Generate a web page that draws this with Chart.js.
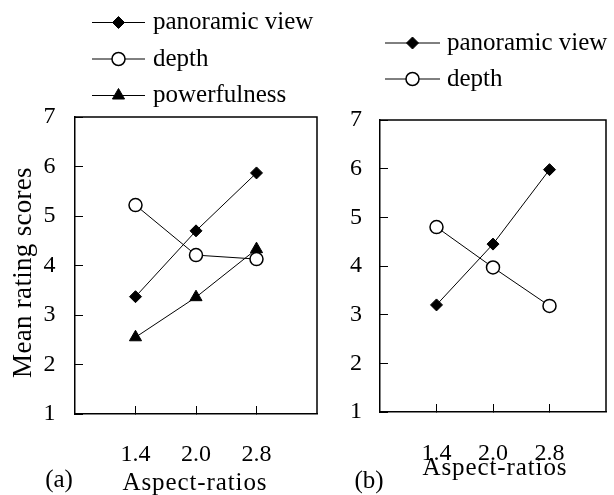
<!DOCTYPE html>
<html>
<head>
<meta charset="utf-8">
<script src="https://cdn.jsdelivr.net/npm/chart.js@4.4.0/dist/chart.umd.min.js"></script>
<style>
  html, body { margin: 0; padding: 0; background: #fff; }
  #wrapA { position: absolute; left: 0; top: 0; width: 330px; height: 495px; }
  #wrapB { position: absolute; left: 330px; top: 0; width: 284px; height: 495px; }
</style>
</head>
<body>
<div id="wrapA"><canvas id="chartA"></canvas></div>
<div id="wrapB"><canvas id="chartB"></canvas></div>
<script>
// data
const aspectRatios = ['1.4', '2.0', '2.8'];
const yTicks = [1, 2, 3, 4, 5, 6, 7];

const panoramicA = [3.37, 4.70, 5.87];
const depthA = [5.22, 4.21, 4.13];
const powerfulnessA = [2.55, 3.36, 4.33];

const panoramicB = [3.20, 4.45, 5.98];
const depthB = [4.80, 3.97, 3.18];

const FONT = '"Liberation Serif", "Times New Roman", serif';
Chart.defaults.font.family = FONT;
Chart.defaults.color = '#000';

const toPoints = vals => vals.map((v, i) => ({ x: i + 1, y: v }));

const styles = {
  panoramic: { pointStyle: 'rectRot', pointRadius: 6, pointBackgroundColor: '#000', pointBorderWidth: 1 },
  depth: { pointStyle: 'circle', pointRadius: 6.5, pointBackgroundColor: '#fff', pointBorderWidth: 1.5 },
  powerfulness: { pointStyle: 'triangle', pointRadius: 7, pointBackgroundColor: '#000', pointBorderWidth: 1 }
};

function series(label, vals, style) {
  return Object.assign({
    label: label,
    data: toPoints(vals),
    borderColor: '#000',
    borderWidth: 1,
    pointBorderColor: '#000',
    pointHoverRadius: style.pointRadius,
    clip: false
  }, style);
}

// top + right edges of the plot box
const frame = {
  id: 'frame',
  beforeDatasetsDraw(chart) {
    const { ctx, chartArea: a } = chart;
    ctx.save();
    ctx.strokeStyle = '#000';
    ctx.lineWidth = 1.5;
    ctx.beginPath();
    ctx.moveTo(a.left, a.top);
    ctx.lineTo(a.right, a.top);
    ctx.lineTo(a.right, a.bottom);
    ctx.stroke();
    ctx.restore();
  }
};

// legend drawn as line-marker-line like the original
const lineLegend = {
  id: 'lineLegend',
  afterDraw(chart, args, opts) {
    const ctx = chart.ctx;
    ctx.save();
    chart.data.datasets.forEach((ds, i) => {
      const y = opts.y + i * opts.rowGap;
      ctx.strokeStyle = '#000';
      ctx.lineWidth = 1;
      ctx.beginPath();
      ctx.moveTo(opts.x, y);
      ctx.lineTo(opts.x + opts.lineLen, y);
      ctx.stroke();
      ctx.fillStyle = ds.pointBackgroundColor;
      ctx.strokeStyle = ds.pointBorderColor;
      ctx.lineWidth = ds.pointBorderWidth;
      Chart.helpers.drawPoint(ctx, {
        pointStyle: ds.pointStyle,
        radius: ds.pointRadius,
        borderWidth: ds.pointBorderWidth,
        rotation: 0
      }, opts.x + opts.lineLen / 2, y);
      ctx.fillStyle = '#000';
      ctx.font = '25px ' + FONT;
      ctx.textAlign = 'left';
      ctx.textBaseline = 'middle';
      ctx.fillText(ds.label, opts.x + opts.lineLen + opts.textGap, y);
    });
    ctx.restore();
  }
};

// axis titles and panel tag; the originals are slightly letter-spaced
const captions = {
  id: 'captions',
  afterDraw(chart, args, opts) {
    const ctx = chart.ctx;
    ctx.save();
    ctx.fillStyle = '#000';
    ctx.textAlign = 'center';
    ctx.textBaseline = 'middle';
    opts.items.forEach(it => {
      ctx.save();
      ctx.font = it.size + 'px ' + FONT;
      ctx.letterSpacing = (it.spacing || 0) + 'px';
      ctx.translate(it.x, it.y);
      if (it.vertical) ctx.rotate(-Math.PI / 2);
      ctx.fillText(it.text, 0, 0);
      ctx.restore();
    });
    ctx.restore();
  }
};

function makeScales(o) {
  return {
    x: {
      type: 'linear',
      min: 0,
      max: 4,
      afterBuildTicks: s => { s.ticks = aspectRatios.map((_, i) => ({ value: i + 1 })); },
      afterFit: s => { s.height = o.xHeight; },
      ticks: {
        callback: v => aspectRatios[Math.round(v) - 1],
        autoSkip: false,
        maxRotation: 0,
        padding: o.xPad,
        font: { size: 24 },
        color: '#000'
      },
      grid: { drawOnChartArea: false, tickLength: -8, color: '#000', lineWidth: 1 },
      border: { color: '#000', width: 1.5 }
    },
    y: {
      type: 'linear',
      min: 1,
      max: 7,
      afterBuildTicks: s => { s.ticks = yTicks.map(v => ({ value: v })); },
      afterFit: s => { s.width = o.yWidth; },
      ticks: { padding: o.yPad, font: { size: 24 }, color: '#000' },
      grid: { drawOnChartArea: false, tickLength: -8, color: '#000', lineWidth: 1 },
      border: { color: '#000', width: 1.5 }
    }
  };
}

function makeChart(id, datasets, o) {
  return new Chart(document.getElementById(id), {
    type: 'line',
    data: { datasets: datasets },
    options: {
      responsive: true,
      maintainAspectRatio: false,
      animation: false,
      events: [],
      layout: { padding: { top: o.top, right: o.right, left: 0, bottom: 0 } },
      scales: makeScales(o),
      plugins: {
        legend: { display: false },
        tooltip: { enabled: false },
        lineLegend: o.legend,
        captions: { items: o.captions }
      }
    },
    plugins: [frame, lineLegend, captions]
  });
}

makeChart('chartA', [
  series('panoramic view', panoramicA, styles.panoramic),
  series('depth', depthA, styles.depth),
  series('powerfulness', powerfulnessA, styles.powerfulness)
], {
  top: 117, right: 13, yWidth: 75, xHeight: 81,
  xPad: 34.5, yPad: 27.5,
  legend: { x: 92, y: 22.5, rowGap: 36.5, lineLen: 53, textGap: 8 },
  captions: [
    { text: 'Aspect-ratios', x: 195, y: 483, size: 25, spacing: 0.9 },
    { text: 'Mean rating scores', x: 23.5, y: 272.5, size: 27, spacing: 0.3, vertical: true },
    { text: '(a)', x: 59, y: 480, size: 25 }
  ]
});

makeChart('chartB', [
  series('panoramic view', panoramicB, styles.panoramic),
  series('depth', depthB, styles.depth)
], {
  top: 120, right: 4, yWidth: 50, xHeight: 83,
  xPad: 35, yPad: 26,
  legend: { x: 55, y: 43, rowGap: 36, lineLen: 55, textGap: 7 },
  captions: [
    { text: 'Aspect-ratios', x: 165, y: 468.5, size: 25, spacing: 0.9 },
    { text: '(b)', x: 39, y: 481, size: 25 }
  ]
});
</script>
</body>
</html>
